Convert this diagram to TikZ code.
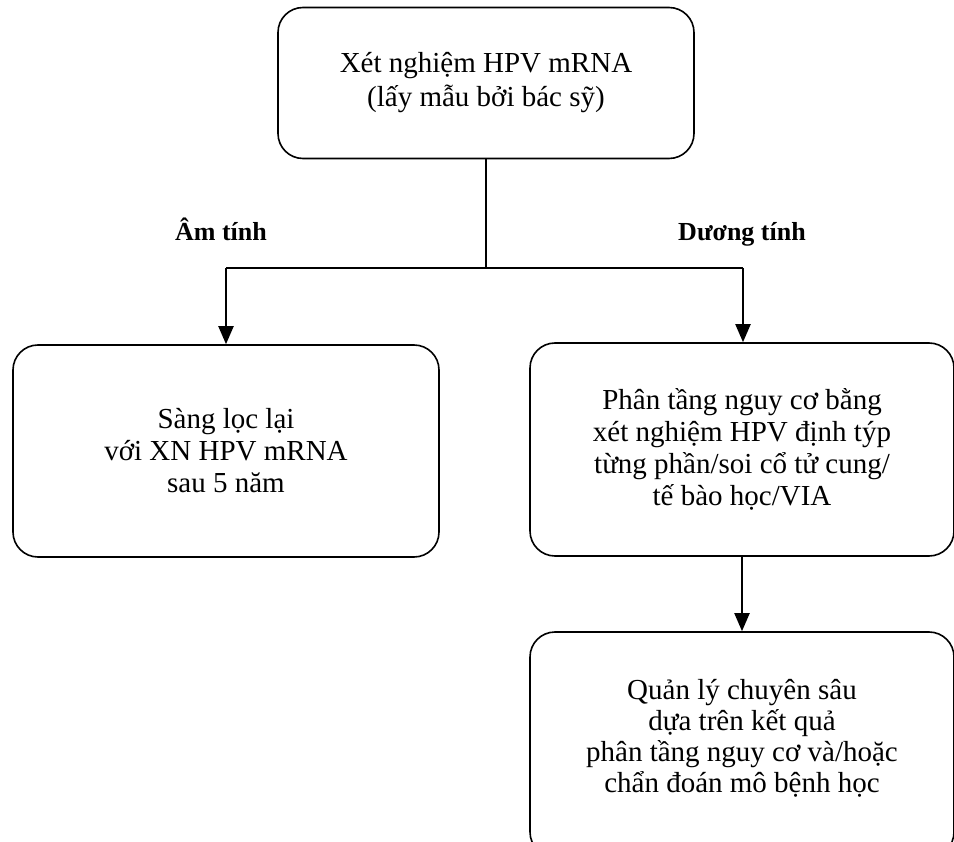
\documentclass[tikz,border=0pt]{standalone}
\usepackage{fontspec}
\setmainfont{Liberation Serif}
\usetikzlibrary{arrows.meta}
\begin{document}
\begin{tikzpicture}[x=1pt,y=-1pt,
  box/.style={draw, line width=1.6pt, rounded corners=25pt, align=center,
              inner sep=0pt, font=\fontsize{29}{32}\selectfont},
  plain/.style={align=center, inner sep=0pt, font=\fontsize{29}{31}\selectfont},
  lbl/.style={inner sep=0pt, font=\fontsize{26}{30}\selectfont\bfseries},
  conn/.style={line width=2pt},
  stem/.style={line width=1.5pt},
  arr/.style={conn, -{Triangle[width=15pt,length=18pt]}},
]
\useasboundingbox (0,0) rectangle (954,842);

\node[box, minimum width=416pt, minimum height=151pt,
      font=\fontsize{29}{34}\selectfont] (top) at (486,83)
  {Xét nghiệm HPV mRNA\\(lấy mẫu bởi bác sỹ)};

\node[box, minimum width=426pt, minimum height=212pt] (left) at (226,451)
  {Sàng lọc lại\\với XN HPV mRNA\\sau 5 năm};

\node[box, minimum width=424pt, minimum height=213pt] (right) at (742,449.5)
  {Phân tầng nguy cơ bằng\\xét nghiệm HPV định týp\\từng phần/soi cổ tử cung/\\tế bào học/VIA};

\node[box, minimum width=424pt, minimum height=225pt] (bottom) at (742,744.5) {};
\node[plain] (bottomtext) at (742,738)
  {Quản lý chuyên sâu\\dựa trên kết quả\\phân tầng nguy cơ và/hoặc\\chẩn đoán mô bệnh học};

\node[lbl, anchor=base] (neg) at (221,241) {Âm tính};
\node[lbl, anchor=base] (pos) at (742,241) {Dương tính};

\coordinate (j) at (486,268);
\coordinate (jl) at (226,268);
\coordinate (jr) at (743,268);

\draw[stem] (top.south) -- (j);
\draw[conn] (jl) -- (jr);
\draw[arr] (jl) -- (jl |- left.north);
\draw[arr] (jr) -- (jr |- right.north);
\draw[arr] (right.south) -- (bottom.north);
\end{tikzpicture}
\end{document}
